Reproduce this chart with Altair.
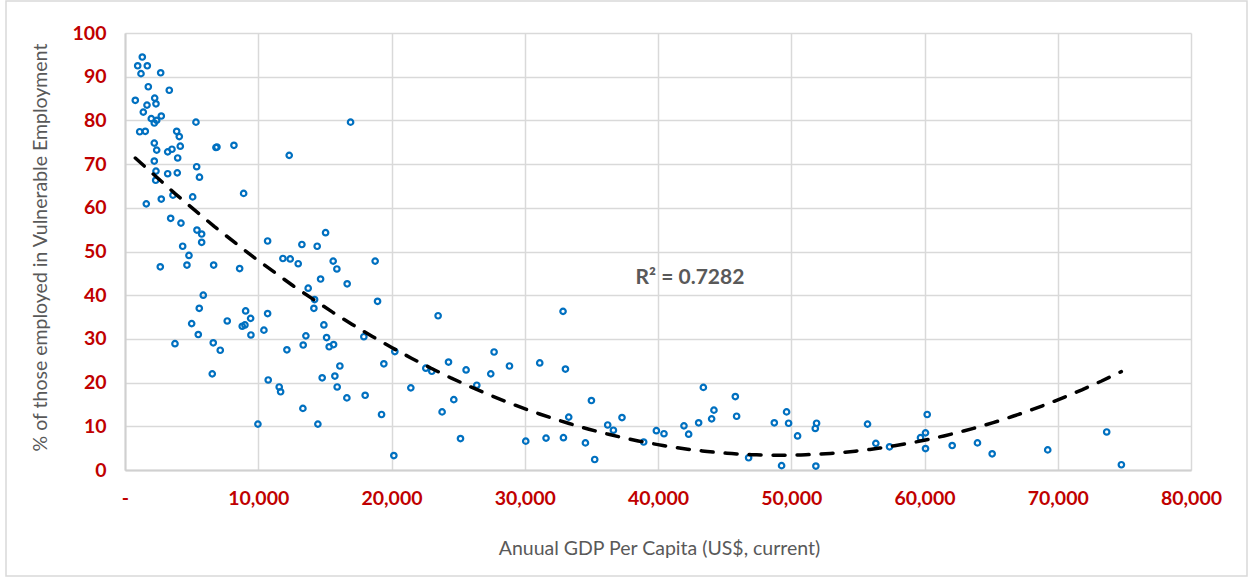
import altair as alt
import pandas as pd

# GDP per capita (current US$) and share of employed people in vulnerable employment (%)
gdp_per_capita = [
    1298, 953, 1673, 1200, 2678, 1748, 3323, 773, 2228, 2325,
    1650, 1373, 2723, 1973, 2378, 2198, 5325, 1103, 1523, 3878,
    4073, 2198, 2378, 4148, 3203, 3525, 6900, 6825, 8175, 12323,
    3953, 2198, 5378, 2325, 3203, 3923, 5588, 2303, 8903, 2723,
    3600, 5078, 1598, 3428, 4200, 5400, 5753, 5753, 10703, 13275,
    4328, 4800, 4650, 2648, 6653, 8603, 11850, 12398, 12998, 13748,
    5873, 5573, 9053, 10703, 9428, 5003, 7673, 9000, 8798, 10425,
    5498, 3750, 6623, 7148, 9450, 13575, 12150, 13373, 6548, 10748,
    11573, 11678, 13350, 9975, 16928, 15053, 14423, 15623, 15900, 18773,
    14678, 16673, 14228, 14175, 18953, 14925, 23498, 15128, 15323, 15653,
    17925, 20250, 16125, 19425, 14798, 15750, 15923, 16650, 18023, 21450,
    19253, 14475, 20175, 22575, 23025, 24278, 25598, 27698, 27450, 26400,
    24675, 23798, 25178, 32873, 28853, 31125, 33053, 35003, 33300, 37298,
    36225, 36653, 30075, 31598, 32903, 34553, 35250, 38925, 39878, 40448,
    41948, 42300, 43050, 43403, 44025, 44198, 45803, 45900, 46800, 48728,
    49650, 49800, 49275, 50475, 51900, 51803, 51848, 55725, 56348, 57375,
    60203, 60075, 59700, 60075, 62078, 63975, 65078, 69248, 73673, 74775,
]
vulnerable_pct = [
    94.5, 92.5, 92.5, 90.7, 90.9, 87.7, 86.9, 84.6, 85.1, 83.8,
    83.5, 81.9, 81.0, 80.4, 80.0, 79.4, 79.6, 77.4, 77.5, 77.5,
    76.3, 74.8, 73.2, 74.1, 72.8, 73.4, 73.9, 73.8, 74.3, 72.0,
    71.4, 70.7, 69.4, 68.4, 67.8, 68.0, 67.0, 66.3, 63.3, 62.0,
    62.9, 62.5, 60.9, 57.6, 56.5, 54.9, 54.0, 52.1, 52.4, 51.6,
    51.2, 49.1, 46.9, 46.5, 46.9, 46.1, 48.4, 48.3, 47.2, 41.6,
    40.0, 37.0, 36.4, 35.8, 34.7, 33.5, 34.1, 33.2, 32.9, 32.0,
    31.0, 28.9, 29.1, 27.4, 30.9, 30.7, 27.5, 28.6, 22.0, 20.6,
    19.0, 17.9, 14.1, 10.5, 79.6, 54.3, 51.2, 47.8, 46.0, 47.8,
    43.7, 42.6, 39.0, 37.0, 38.6, 33.2, 35.3, 30.3, 28.2, 28.7,
    30.5, 27.1, 23.8, 24.3, 21.1, 21.5, 19.0, 16.5, 17.1, 18.8,
    12.7, 10.5, 3.3, 23.3, 22.6, 24.7, 22.9, 27.0, 22.0, 19.4,
    16.1, 13.3, 7.2, 36.3, 23.8, 24.5, 23.1, 15.9, 12.1, 12.0,
    10.3, 9.1, 6.6, 7.3, 7.4, 6.2, 2.4, 6.4, 9.0, 8.3,
    10.1, 8.2, 10.8, 18.9, 11.7, 13.7, 16.8, 12.3, 2.8, 10.8,
    13.3, 10.7, 1.0, 7.8, 10.7, 9.5, 0.9, 10.5, 6.1, 5.3,
    12.7, 8.5, 7.4, 4.9, 5.6, 6.2, 3.7, 4.6, 8.7, 1.2,
]

x_ticks = list(range(0, 80001, 10000))
y_ticks = list(range(0, 101, 10))

fit_label = ["R\u00b2 = 0.7282"]
fit_label_x = [42400]
fit_label_y = [43.9]

df = pd.DataFrame({"gdp": gdp_per_capita, "vuln": vulnerable_pct})
label_df = pd.DataFrame({"gdp": fit_label_x, "vuln": fit_label_y, "txt": fit_label})

RED = "#C00000"
TEXT_GRAY = "#595959"
GRID = "#D9D9D9"
BLUE = "#0070C0"
FONT = "Lato"

x_enc = alt.X(
    "gdp:Q",
    scale=alt.Scale(domain=[0, 80000], nice=False, zero=True),
    axis=alt.Axis(
        values=x_ticks,
        labelExpr="datum.value == 0 ? '-' : format(datum.value, ',')",
        title="Anuual GDP Per Capita (US$, current)",
        titleX=534,
        titleY=78,
        titleAlign="center",
        titleBaseline="middle",
        labelPadding=19,
    ),
)
y_enc = alt.Y(
    "vuln:Q",
    scale=alt.Scale(domain=[0, 100], nice=False),
    axis=alt.Axis(
        values=y_ticks,
        title="% of those employed  in Vulnerable Employment",
        titleAngle=-90,
        titleX=-85,
        titleY=214,
        titleAlign="center",
        titleBaseline="middle",
        labelPadding=19,
    ),
)

points = alt.Chart(df).mark_point(
    shape="circle", filled=False, color=BLUE, size=30, strokeWidth=2.2, opacity=1
).encode(x=x_enc, y=y_enc)

trend = alt.Chart(df).transform_regression(
    "gdp", "vuln", method="poly", order=2
).mark_line(
    color="black", strokeWidth=3.5, strokeDash=[12, 12], strokeCap="round"
).encode(x=x_enc, y=y_enc)

annotation = alt.Chart(label_df).mark_text(
    font=FONT, fontSize=21, fontWeight="bold", color=TEXT_GRAY, align="center", baseline="middle"
).encode(x=x_enc, y=y_enc, text="txt:N")

# light frame around the whole chart area
frame = alt.Chart(alt.Data(values=[{}])).mark_rect(
    fillOpacity=0, stroke=GRID, strokeWidth=1.5
).encode(
    x=alt.value(-119), x2=alt.value(1122), y=alt.value(-32), y2=alt.value(543)
)

chart = alt.layer(frame, points, trend, annotation).properties(
    width=1066,
    height=437,
    padding={"left": 125, "top": 33, "right": 61, "bottom": 107},
    autosize=alt.AutoSizeParams(type="none"),
).configure_view(
    stroke=None
).configure_axis(
    grid=True,
    gridColor=GRID,
    gridWidth=1.5,
    domainColor="#D0D0D0",
    domainWidth=2,
    ticks=False,
    labelFont=FONT,
    labelFontSize=19.5,
    labelFontWeight="bold",
    labelColor=RED,
    titleFont=FONT,
    titleFontSize=19.5,
    titleFontWeight="normal",
    titleColor=TEXT_GRAY,
).configure_axisX(
    labelAlign="center",
    labelBaseline="top",
).configure_axisY(
    labelAlign="right",
    labelBaseline="middle",
)

chart.save("out.html", embed_options={"renderer": "svg", "actions": False})
